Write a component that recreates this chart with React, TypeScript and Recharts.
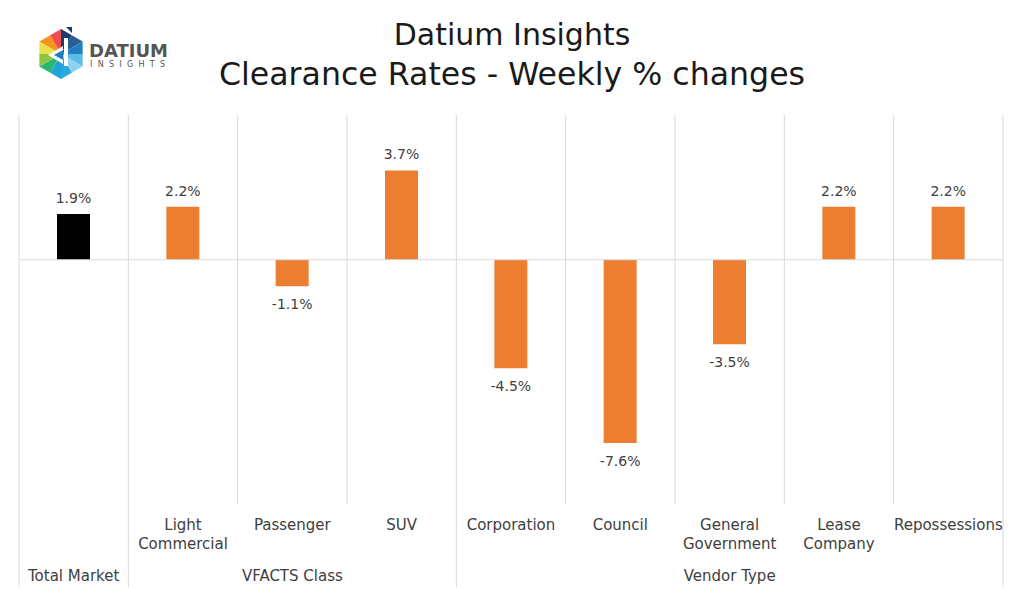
import { BarChart, Bar, XAxis, YAxis, CartesianGrid, ReferenceLine, Cell, LabelList } from "recharts";

const categories = [
  "Total Market",
  "Light Commercial",
  "Passenger",
  "SUV",
  "Corporation",
  "Council",
  "General Government",
  "Lease Company",
  "Repossessions",
];
const tickLabels = [
  [],
  ["Light", "Commercial"],
  ["Passenger"],
  ["SUV"],
  ["Corporation"],
  ["Council"],
  ["General", "Government"],
  ["Lease", "Company"],
  ["Repossessions"],
];
const values = [1.9, 2.2, -1.1, 3.7, -4.5, -7.6, -3.5, 2.2, 2.2];
const groupNames = ["Total Market", "VFACTS Class", "Vendor Type"];
const groupStarts = [0, 1, 4];
const groupSizes = [1, 3, 5];
const yDomain = [-10, 6];

const FONT = "'DejaVu Sans', sans-serif";
const TEXT = "#404040";
const GRID = "#d9d9d9";
const ORANGE = "#ED7D31";

const WIDTH = 1024;
const HEIGHT = 594;
const MARGIN = { top: 115, right: 21, bottom: 5, left: 19 };
const BAND = (WIDTH - MARGIN.left - MARGIN.right) / categories.length;

const data = categories.map((name, i) => ({ name, value: values[i] }));

function CategoryTick(props: any) {
  const { x, y, payload } = props;
  const index: number = props.index ?? payload.index;
  const lines = tickLabels[index] || [];
  const left = x - BAND / 2;
  const g = groupStarts.indexOf(index);
  const last = index === categories.length - 1;
  return (
    <g>
      <line x1={left} x2={left} y1={y} y2={g >= 0 ? y + 86 : y + 3} stroke={GRID} />
      {last && <line x1={left + BAND} x2={left + BAND} y1={y} y2={y + 86} stroke={GRID} />}
      {lines.map((l, i) => (
        <text key={i} x={x} y={y + 29 + i * 19} textAnchor="middle" fontSize={15} fill={TEXT} fontFamily={FONT}>
          {l}
        </text>
      ))}
      {g >= 0 && (
        <text
          x={x + ((groupSizes[g] - 1) * BAND) / 2}
          y={y + 80}
          textAnchor="middle"
          fontSize={15}
          fill={TEXT}
          fontFamily={FONT}
        >
          {groupNames[g]}
        </text>
      )}
    </g>
  );
}

function ValueLabel(props: any) {
  const { x, y, width, height, value } = props;
  const top = Math.min(y, y + height);
  const bottom = Math.max(y, y + height);
  const ty = value >= 0 ? top - 11 : bottom + 23;
  return (
    <text x={x + width / 2} y={ty} textAnchor="middle" fontSize={14} fill={TEXT} fontFamily={FONT}>
      {Number(value).toFixed(1)}%
    </text>
  );
}

function Logo() {
  const cx = 61;
  const cy = 54;
  const r = 25;
  const pts = [-90, -30, 30, 90, 150, 210].map((a) => [
    cx + r * Math.cos((a * Math.PI) / 180),
    cy + r * Math.sin((a * Math.PI) / 180),
  ]);
  const colors = [
    ["#1d3c6e", "#2a5d93"],
    ["#1f7fc0", "#5bbde8"],
    ["#8fd3f0", "#29a9e1"],
    ["#1fa4d8", "#2bb673"],
    ["#8cc63f", "#e9e24a"],
    ["#f7941d", "#ee4d4d"],
  ];
  const tris: JSX.Element[] = [];
  pts.forEach((p, i) => {
    const q = pts[(i + 1) % 6];
    const m = [(p[0] + q[0]) / 2, (p[1] + q[1]) / 2];
    tris.push(<polygon key={`a${i}`} points={`${cx},${cy} ${p[0]},${p[1]} ${m[0]},${m[1]}`} fill={colors[i][0]} />);
    tris.push(<polygon key={`b${i}`} points={`${cx},${cy} ${m[0]},${m[1]} ${q[0]},${q[1]}`} fill={colors[i][1]} />);
  });
  return (
    <svg width={200} height={100} style={{ position: "absolute", left: 0, top: 0 }}>
      {tris}
      <polygon points="48,55 63,46 63,64" fill="#ffffff" />
      <polygon points="54,55 63,50 63,60" fill="#1f7fc0" />
      <rect x={64} y={38} width={4} height={28} fill="#ffffff" />
      <polygon points="66,27 72,27 72,33" fill="#1d3c6e" />
      <text x={89} y={57} fontSize={18} fontWeight="bold" fill="#555555" fontFamily={FONT}>
        DATIUM
      </text>
      <text x={90} y={67} fontSize={8} letterSpacing={5.3} fill="#555555" fontFamily={FONT}>
        INSIGHTS
      </text>
    </svg>
  );
}

export default function App() {
  return (
    <div style={{ position: "absolute", left: 0, top: 0, width: WIDTH, height: HEIGHT, background: "#ffffff" }}>
      <svg width={WIDTH} height={100} style={{ position: "absolute", left: 0, top: 0 }}>
        <text x={512} y={45} textAnchor="middle" fontSize={30} fill="#1a1a1a" fontFamily={FONT}>
          Datium Insights
        </text>
        <text x={512} y={85} textAnchor="middle" fontSize={31.6} fill="#1a1a1a" fontFamily={FONT}>
          Clearance Rates - Weekly % changes
        </text>
      </svg>
      <Logo />
      <div style={{ position: "absolute", left: 0, top: 0 }}>
        <BarChart width={WIDTH} height={HEIGHT} data={data} margin={MARGIN} barSize={33}>
          <CartesianGrid
            horizontal={false}
            stroke={GRID}
            verticalCoordinatesGenerator={({ offset }: any) =>
              Array.from({ length: categories.length + 1 }, (_, i) => offset.left + (i * offset.width) / categories.length)
            }
          />
          <XAxis
            dataKey="name"
            height={88}
            axisLine={false}
            tickLine={false}
            tickSize={0}
            tickMargin={0}
            interval={0}
            tick={<CategoryTick />}
          />
          <YAxis hide domain={yDomain} />
          <ReferenceLine y={0} stroke={GRID} />
          <Bar dataKey="value" isAnimationActive={false}>
            {data.map((d, i) => (
              <Cell key={d.name} fill={i === 0 ? "#000000" : ORANGE} />
            ))}
            <LabelList dataKey="value" content={<ValueLabel />} />
          </Bar>
        </BarChart>
      </div>
    </div>
  );
}
